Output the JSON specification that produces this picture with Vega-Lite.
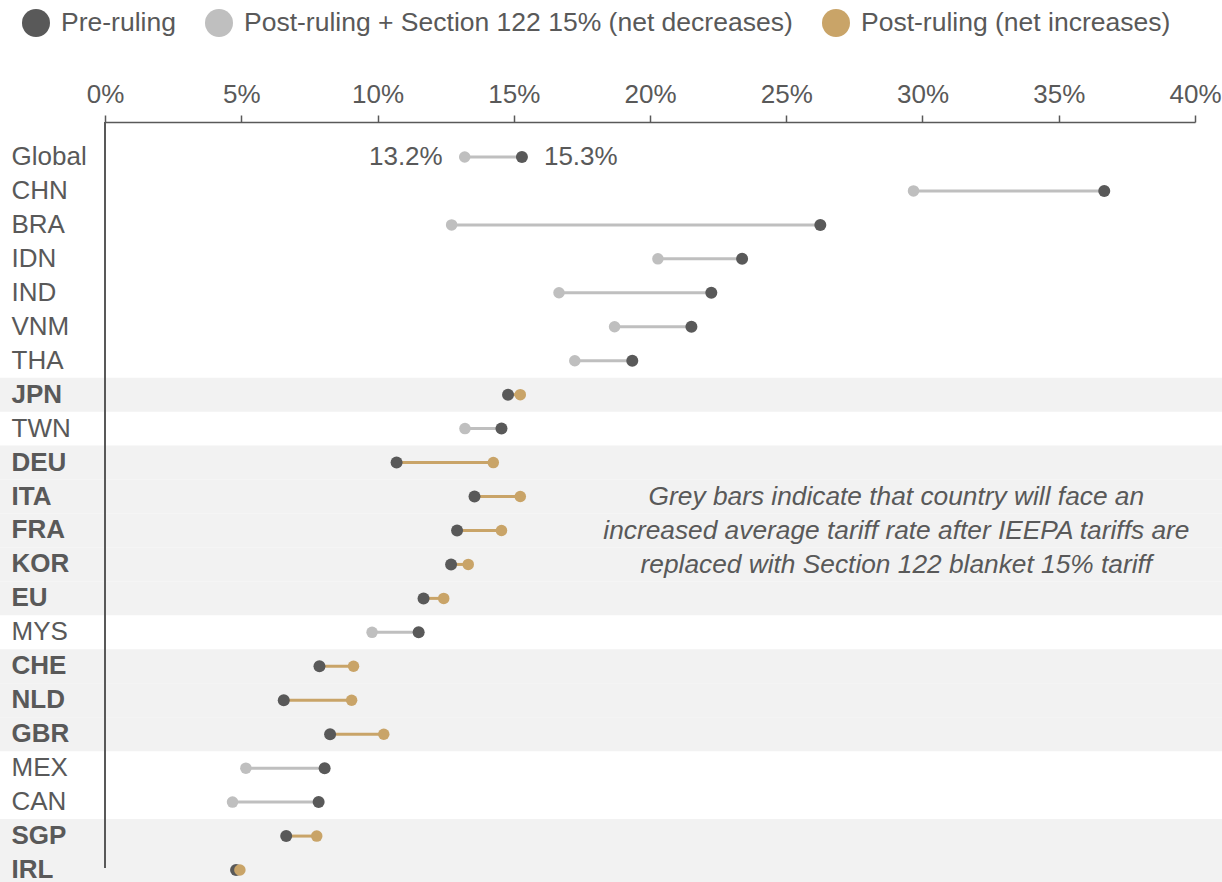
{
  "$schema": "https://vega.github.io/schema/vega-lite/v6.json",
  "autosize": "none",
  "padding": {"top": 122, "left": 105, "right": 27, "bottom": 0},
  "width": 1090,
  "height": 765,
  "background": "white",
  "config": {
    "view": {"stroke": null},
    "font": "Liberation Sans",
    "axis": {"labelFont": "Liberation Sans"},
    "legend": {"labelFont": "Liberation Sans"}
  },
  "data": {
    "values": [
      {"country": "Global", "pre": 0.153, "post": 0.132, "group": "Post-ruling + Section 122 15% (net decreases)"},
      {"country": "CHN", "pre": 0.3667, "post": 0.2967, "group": "Post-ruling + Section 122 15% (net decreases)"},
      {"country": "BRA", "pre": 0.2625, "post": 0.1272, "group": "Post-ruling + Section 122 15% (net decreases)"},
      {"country": "IDN", "pre": 0.2338, "post": 0.2029, "group": "Post-ruling + Section 122 15% (net decreases)"},
      {"country": "IND", "pre": 0.2225, "post": 0.1666, "group": "Post-ruling + Section 122 15% (net decreases)"},
      {"country": "VNM", "pre": 0.2152, "post": 0.187, "group": "Post-ruling + Section 122 15% (net decreases)"},
      {"country": "THA", "pre": 0.1935, "post": 0.1724, "group": "Post-ruling + Section 122 15% (net decreases)"},
      {"country": "JPN", "pre": 0.1479, "post": 0.1524, "group": "Post-ruling (net increases)"},
      {"country": "TWN", "pre": 0.1455, "post": 0.1321, "group": "Post-ruling + Section 122 15% (net decreases)"},
      {"country": "DEU", "pre": 0.107, "post": 0.1425, "group": "Post-ruling (net increases)"},
      {"country": "ITA", "pre": 0.1356, "post": 0.1524, "group": "Post-ruling (net increases)"},
      {"country": "FRA", "pre": 0.1292, "post": 0.1455, "group": "Post-ruling (net increases)"},
      {"country": "KOR", "pre": 0.127, "post": 0.1333, "group": "Post-ruling (net increases)"},
      {"country": "EU", "pre": 0.1169, "post": 0.1243, "group": "Post-ruling (net increases)"},
      {"country": "MYS", "pre": 0.1151, "post": 0.098, "group": "Post-ruling + Section 122 15% (net decreases)"},
      {"country": "CHE", "pre": 0.0787, "post": 0.0912, "group": "Post-ruling (net increases)"},
      {"country": "NLD", "pre": 0.0656, "post": 0.0905, "group": "Post-ruling (net increases)"},
      {"country": "GBR", "pre": 0.0826, "post": 0.1023, "group": "Post-ruling (net increases)"},
      {"country": "MEX", "pre": 0.0806, "post": 0.0517, "group": "Post-ruling + Section 122 15% (net decreases)"},
      {"country": "CAN", "pre": 0.0784, "post": 0.0468, "group": "Post-ruling + Section 122 15% (net decreases)"},
      {"country": "SGP", "pre": 0.0665, "post": 0.0777, "group": "Post-ruling (net increases)"},
      {"country": "IRL", "pre": 0.0481, "post": 0.0495, "group": "Post-ruling (net increases)"}
    ]
  },
  "layer": [
    {
      "transform": [{"filter": "datum.group === 'Post-ruling (net increases)'"}],
      "mark": {"type": "rect", "color": "#f2f2f2"},
      "encoding": {
        "y": {
          "field": "country",
          "type": "nominal",
          "sort": null,
          "title": null,
          "scale": {
            "domain": ["Global", "CHN", "BRA", "IDN", "IND", "VNM", "THA", "JPN", "TWN", "DEU", "ITA", "FRA", "KOR", "EU", "MYS", "CHE", "NLD", "GBR", "MEX", "CAN", "SGP", "IRL"],
            "paddingInner": 0,
            "paddingOuter": 0.265,
            "align": 1
          },
          "axis": {
            "title": null,
            "domain": false,
            "ticks": false,
            "tickSize": 0,
            "labelAlign": "left",
            "labelPadding": 94,
            "labelFontSize": 26,
            "labelColor": "#595959",
            "labelLimit": 300,
            "labelFontWeight": {
              "condition": {"test": "indexof(['JPN','DEU','ITA','FRA','KOR','EU','CHE','NLD','GBR','SGP','IRL'], datum.value) >= 0", "value": "bold"},
              "value": "normal"
            }
          }
        },
        "x": {
          "datum": -0.0386,
          "type": "quantitative",
          "title": null,
          "scale": {"domain": [0, 0.4], "nice": false, "zero": false},
          "axis": {
            "orient": "top",
            "title": null,
            "values": [0, 0.05, 0.1, 0.15, 0.2, 0.25, 0.3, 0.35, 0.4],
            "format": ".0%",
            "grid": false,
            "domainColor": "#595959",
            "domainWidth": 1.5,
            "tickColor": "#595959",
            "tickWidth": 1.5,
            "tickSize": 7,
            "labelFontSize": 26,
            "labelColor": "#595959",
            "labelPadding": 8,
            "labelFlush": false,
            "labelOverlap": false
          }
        },
        "x2": {"datum": 0.41}
      }
    },
    {
      "mark": {"type": "rule", "color": "#595959", "strokeWidth": 2, "yOffset": -18, "y2Offset": 15},
      "data": {"values": [{"axis": "y"}]},
      "encoding": {
        "x": {"datum": 0, "type": "quantitative", "title": null},
        "y": {"datum": "Global", "type": "nominal", "bandPosition": 0},
        "y2": {"datum": "IRL", "bandPosition": 0}
      }
    },
    {
      "mark": {"type": "rule", "strokeWidth": 3},
      "encoding": {
        "y": {"field": "country", "type": "nominal"},
        "x": {"field": "pre", "type": "quantitative", "title": null},
        "x2": {"field": "post"},
        "color": {
          "condition": {"test": "datum.group === 'Post-ruling (net increases)'", "value": "#c9a468"},
          "value": "#bfbfbf"
        }
      }
    },
    {
      "mark": {"type": "circle", "size": 144, "opacity": 1},
      "encoding": {
        "y": {"field": "country", "type": "nominal"},
        "x": {"field": "pre", "type": "quantitative", "title": null},
        "color": {
          "datum": "Pre-ruling",
          "type": "nominal",
          "title": null,
          "scale": {
            "domain": ["Pre-ruling", "Post-ruling + Section 122 15% (net decreases)", "Post-ruling (net increases)"],
            "range": ["#595959", "#bfbfbf", "#c9a468"]
          },
          "legend": {
            "title": null,
            "orient": "none",
            "direction": "horizontal",
            "legendX": -83,
            "legendY": -113,
            "padding": 0,
            "symbolType": "circle",
            "symbolSize": 784,
            "symbolStrokeWidth": 0,
            "symbolOpacity": 1,
            "labelFontSize": 26.5,
            "labelColor": "#595959",
            "labelOffset": 11,
            "labelLimit": 1000,
            "columnPadding": 29
          }
        }
      }
    },
    {
      "mark": {"type": "circle", "size": 132, "opacity": 1},
      "encoding": {
        "y": {"field": "country", "type": "nominal"},
        "x": {"field": "post", "type": "quantitative", "title": null},
        "color": {"field": "group", "type": "nominal", "title": null}
      }
    },
    {
      "transform": [{"filter": "datum.country === 'Global'"}],
      "mark": {"type": "text", "align": "right", "baseline": "middle", "dx": -22, "fontSize": 26, "color": "#595959"},
      "encoding": {
        "y": {"field": "country", "type": "nominal"},
        "x": {"field": "post", "type": "quantitative", "title": null},
        "text": {"field": "post", "type": "quantitative", "format": ".1%"}
      }
    },
    {
      "transform": [{"filter": "datum.country === 'Global'"}],
      "mark": {"type": "text", "align": "left", "baseline": "middle", "dx": 22, "fontSize": 26, "color": "#595959"},
      "encoding": {
        "y": {"field": "country", "type": "nominal"},
        "x": {"field": "pre", "type": "quantitative", "title": null},
        "text": {"field": "pre", "type": "quantitative", "format": ".1%"}
      }
    },
    {
      "data": {
        "values": [
          {"country": "ITA", "note": "Grey bars indicate that country will face an\nincreased average tariff rate after IEEPA tariffs are\nreplaced with Section 122 blanket 15% tariff"}
        ]
      },
      "mark": {"type": "text", "align": "center", "baseline": "middle", "fontSize": 26.3, "fontStyle": "italic", "lineBreak": "\n", "lineHeight": 34, "color": "#595959"},
      "encoding": {
        "y": {"field": "country", "type": "nominal"},
        "x": {"datum": 0.2904, "type": "quantitative", "title": null},
        "text": {"field": "note", "type": "nominal"}
      }
    }
  ]
}
